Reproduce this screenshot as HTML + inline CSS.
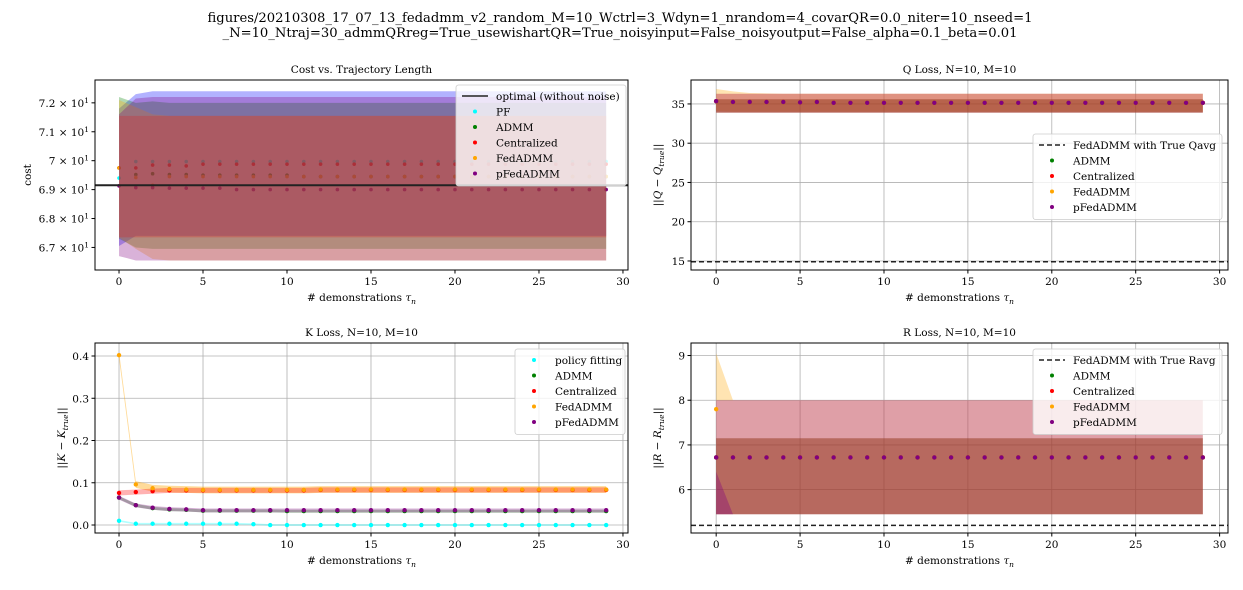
<!DOCTYPE html>
<html><head><meta charset="utf-8">
<style>
html,body{margin:0;padding:0;background:#fff;}
svg{display:block;font-family:"DejaVu Serif","Liberation Serif",serif;}
</style></head>
<body>
<svg id="fig" width="1243" height="590" viewBox="0 0 1243 590" xmlns="http://www.w3.org/2000/svg">
<rect width="1243" height="590" fill="#fff"/>
<text x="620" y="22" font-size="13" text-anchor="middle" textLength="825" lengthAdjust="spacingAndGlyphs">figures/20210308_17_07_13_fedadmm_v2_random_M=10_Wctrl=3_Wdyn=1_nrandom=4_covarQR=0.0_niter=10_nseed=1</text>
<text x="620" y="37" font-size="13" text-anchor="middle" textLength="795" lengthAdjust="spacingAndGlyphs">_N=10_Ntraj=30_admmQRreg=True_usewishartQR=True_noisyinput=False_noisyoutput=False_alpha=0.1_beta=0.01</text>
</svg>
<script>
// ---- Cost chart data ----
const costPF   = [69.40,69.97,69.97,69.97,69.97,69.97,69.97,69.97,69.97,69.97,69.97,69.97,69.97,69.97,69.97,69.97,69.97,69.97,69.97,69.97,69.97,69.97,69.97,69.97,69.97,69.97,69.97,69.97,69.97,69.97];
const costADMM = [69.75,69.52,69.55,69.52,69.52,69.50,69.50,69.50,69.50,69.50,69.50,69.45,69.45,69.45,69.45,69.45,69.45,69.45,69.45,69.45,69.45,69.45,69.45,69.45,69.45,69.45,69.45,69.45,69.45,69.45];
const costCent = [69.75,69.75,69.85,69.85,69.82,69.88,69.88,69.88,69.88,69.88,69.88,69.88,69.88,69.88,69.88,69.88,69.88,69.88,69.88,69.88,69.88,69.88,69.88,69.88,69.88,69.88,69.88,69.88,69.88,69.88];
const costFed  = [69.75,69.42,69.15,69.45,69.45,69.45,69.45,69.45,69.45,69.45,69.45,69.45,69.45,69.45,69.45,69.45,69.45,69.45,69.45,69.45,69.45,69.45,69.45,69.45,69.45,69.45,69.45,69.45,69.45,69.45];
const costPFed = [69.13,69.07,69.07,69.05,69.05,69.05,69.05,69.00,69.00,69.00,69.00,69.00,69.00,69.00,69.00,69.00,69.00,69.00,69.00,69.00,69.00,69.00,69.00,69.00,69.00,69.00,69.00,69.00,69.00,69.00];
const costPFLo = [67.05,67.40,67.40,67.40,67.40,67.40,67.40,67.40,67.40,67.40,67.40,67.40,67.40,67.40,67.40,67.40,67.40,67.40,67.40,67.40,67.40,67.40,67.40,67.40,67.40,67.40,67.40,67.40,67.40,67.40];
const costPFHi = [71.80,72.30,72.40,72.40,72.40,72.40,72.40,72.40,72.40,72.40,72.40,72.40,72.40,72.40,72.40,72.40,72.40,72.40,72.40,72.40,72.40,72.40,72.40,72.40,72.40,72.40,72.40,72.40,72.40,72.40];
const costADMMLo = [67.30,67.00,66.95,66.95,66.95,66.95,66.95,66.95,66.95,66.95,66.95,66.95,66.95,66.95,66.95,66.95,66.95,66.95,66.95,66.95,66.95,66.95,66.95,66.95,66.95,66.95,66.95,66.95,66.95,66.95];
const costADMMHi = [72.20,72.00,72.05,72.00,72.00,72.00,72.00,72.00,72.00,72.00,72.00,72.00,72.00,72.00,72.00,72.00,72.00,72.00,72.00,72.00,72.00,72.00,72.00,72.00,72.00,72.00,72.00,72.00,72.00,72.00];
const costCentLo = [67.35,67.35,67.35,67.35,67.35,67.35,67.35,67.35,67.35,67.35,67.35,67.35,67.35,67.35,67.35,67.35,67.35,67.35,67.35,67.35,67.35,67.35,67.35,67.35,67.35,67.35,67.35,67.35,67.35,67.35];
const costCentHi = [71.55,71.55,71.55,71.55,71.55,71.55,71.55,71.55,71.55,71.55,71.55,71.55,71.55,71.55,71.55,71.55,71.55,71.55,71.55,71.55,71.55,71.55,71.55,71.55,71.55,71.55,71.55,71.55,71.55,71.55];
const costFedLo = [67.35,66.95,66.60,66.55,66.55,66.55,66.55,66.55,66.55,66.55,66.55,66.55,66.55,66.55,66.55,66.55,66.55,66.55,66.55,66.55,66.55,66.55,66.55,66.55,66.55,66.55,66.55,66.55,66.55,66.55];
const costFedHi = [72.10,71.85,71.60,71.55,71.55,71.55,71.55,71.55,71.55,71.55,71.55,71.55,71.55,71.55,71.55,71.55,71.55,71.55,71.55,71.55,71.55,71.55,71.55,71.55,71.55,71.55,71.55,71.55,71.55,71.55];
const costPFedLo = [66.70,66.55,66.55,66.55,66.55,66.55,66.55,66.55,66.55,66.55,66.55,66.55,66.55,66.55,66.55,66.55,66.55,66.55,66.55,66.55,66.55,66.55,66.55,66.55,66.55,66.55,66.55,66.55,66.55,66.55];
const costPFedHi = [71.60,72.15,72.20,72.20,72.20,72.20,72.20,72.20,72.20,72.20,72.20,72.20,72.20,72.20,72.20,72.20,72.20,72.20,72.20,72.20,72.20,72.20,72.20,72.20,72.20,72.20,72.20,72.20,72.20,72.20];
const costOptimal = 69.15;
const costTicks = [67,68,69,70,71,72];
const costTickLabels = ["6.7","6.8","6.9","7","7.1","7.2"];

// ---- Q loss data ----
const qVal  = [35.35,35.25,35.25,35.25,35.25,35.2,35.25,35.15,35.15,35.15,35.15,35.15,35.15,35.15,35.15,35.15,35.15,35.15,35.15,35.15,35.15,35.15,35.15,35.15,35.15,35.15,35.15,35.15,35.15,35.15];
const qFedLo = [34.1,34.0,34.0,34.0,34.0,34.0,34.0,34.0,34.0,34.0,34.0,34.0,34.0,34.0,34.0,34.0,34.0,34.0,34.0,34.0,34.0,34.0,34.0,34.0,34.0,34.0,34.0,34.0,34.0,34.0];
const qFedHi = [36.9,36.6,36.4,36.35,36.3,36.3,36.3,36.3,36.3,36.3,36.3,36.3,36.3,36.3,36.3,36.3,36.3,36.3,36.3,36.3,36.3,36.3,36.3,36.3,36.3,36.3,36.3,36.3,36.3,36.3];
const qCentLo = [33.9,33.9,33.9,33.9,33.9,33.9,33.9,33.9,33.9,33.9,33.9,33.9,33.9,33.9,33.9,33.9,33.9,33.9,33.9,33.9,33.9,33.9,33.9,33.9,33.9,33.9,33.9,33.9,33.9,33.9];
const qCentHi = [36.3,36.3,36.3,36.3,36.3,36.3,36.3,36.3,36.3,36.3,36.3,36.3,36.3,36.3,36.3,36.3,36.3,36.3,36.3,36.3,36.3,36.3,36.3,36.3,36.3,36.3,36.3,36.3,36.3,36.3];
const qAdmmLo = [33.9,33.9,33.9,33.9,33.9,33.9,33.9,33.9,33.9,33.9,33.9,33.9,33.9,33.9,33.9,33.9,33.9,33.9,33.9,33.9,33.9,33.9,33.9,33.9,33.9,33.9,33.9,33.9,33.9,33.9];
const qAdmmHi = [35.6,35.6,35.6,35.6,35.6,35.6,35.6,35.6,35.6,35.6,35.6,35.6,35.6,35.6,35.6,35.6,35.6,35.6,35.6,35.6,35.6,35.6,35.6,35.6,35.6,35.6,35.6,35.6,35.6,35.6];
const qTrue = 14.9;
const qTicks = [15,20,25,30,35];

// ---- K loss data ----
const kPF   = [0.010,0.003,0.003,0.003,0.003,0.003,0.003,0.003,0.002,0,0,0,0,0,0,0,0,0,0,0,0,0,0,0,0,0,0,0,0,0];
const kADMM = [0.065,0.047,0.040,0.037,0.036,0.034,0.034,0.034,0.034,0.034,0.033,0.033,0.033,0.033,0.033,0.033,0.033,0.033,0.033,0.033,0.033,0.033,0.033,0.033,0.033,0.033,0.033,0.033,0.033,0.033];
const kCent = [0.076,0.078,0.080,0.082,0.082,0.082,0.082,0.082,0.082,0.082,0.082,0.082,0.083,0.083,0.083,0.083,0.083,0.083,0.083,0.083,0.083,0.083,0.083,0.083,0.083,0.083,0.083,0.083,0.083,0.083];
const kFed  = [0.402,0.096,0.087,0.085,0.084,0.083,0.083,0.083,0.083,0.083,0.083,0.083,0.084,0.084,0.084,0.084,0.084,0.084,0.084,0.084,0.084,0.084,0.084,0.084,0.084,0.084,0.084,0.084,0.084,0.084];
const kPFed = [0.065,0.047,0.041,0.038,0.037,0.035,0.035,0.035,0.035,0.035,0.035,0.035,0.035,0.035,0.035,0.035,0.035,0.035,0.035,0.035,0.035,0.035,0.035,0.035,0.035,0.035,0.035,0.035,0.035,0.035];
const kTicks = [0,0.1,0.2,0.3,0.4];
const kTickLabels = ["0.0","0.1","0.2","0.3","0.4"];

// ---- R loss data ----
const rPFed = [6.72,6.72,6.72,6.72,6.72,6.72,6.72,6.72,6.72,6.72,6.72,6.72,6.72,6.72,6.72,6.72,6.72,6.72,6.72,6.72,6.72,6.72,6.72,6.72,6.72,6.72,6.72,6.72,6.72,6.72];
const rFed = [7.80,6.72,6.72,6.72,6.72,6.72,6.72,6.72,6.72,6.72,6.72,6.72,6.72,6.72,6.72,6.72,6.72,6.72,6.72,6.72,6.72,6.72,6.72,6.72,6.72,6.72,6.72,6.72,6.72,6.72];
const rFedLo = [8.0,8.0,8.0,8.0,8.0,8.0,8.0,8.0,8.0,8.0,8.0,8.0,8.0,8.0,8.0,8.0,8.0,8.0,8.0,8.0,8.0,8.0,8.0,8.0,8.0,8.0,8.0,8.0,8.0,8.0];
const rFedHi = [9.05,8.0,8.0,8.0,8.0,8.0,8.0,8.0,8.0,8.0,8.0,8.0,8.0,8.0,8.0,8.0,8.0,8.0,8.0,8.0,8.0,8.0,8.0,8.0,8.0,8.0,8.0,8.0,8.0,8.0];
const rCentLo = [5.45,5.45,5.45,5.45,5.45,5.45,5.45,5.45,5.45,5.45,5.45,5.45,5.45,5.45,5.45,5.45,5.45,5.45,5.45,5.45,5.45,5.45,5.45,5.45,5.45,5.45,5.45,5.45,5.45,5.45];
const rCentHi = [8.0,8.0,8.0,8.0,8.0,8.0,8.0,8.0,8.0,8.0,8.0,8.0,8.0,8.0,8.0,8.0,8.0,8.0,8.0,8.0,8.0,8.0,8.0,8.0,8.0,8.0,8.0,8.0,8.0,8.0];
const rAdmmHi = [7.15,7.15,7.15,7.15,7.15,7.15,7.15,7.15,7.15,7.15,7.15,7.15,7.15,7.15,7.15,7.15,7.15,7.15,7.15,7.15,7.15,7.15,7.15,7.15,7.15,7.15,7.15,7.15,7.15,7.15];
const rPFedLo = [5.45,5.45,5.45,5.45,5.45,5.45,5.45,5.45,5.45,5.45,5.45,5.45,5.45,5.45,5.45,5.45,5.45,5.45,5.45,5.45,5.45,5.45,5.45,5.45,5.45,5.45,5.45,5.45,5.45,5.45];
const rPFedHi0 = [6.4,5.45,5.45,5.45,5.45,5.45,5.45,5.45,5.45,5.45,5.45,5.45,5.45,5.45,5.45,5.45,5.45,5.45,5.45,5.45,5.45,5.45,5.45,5.45,5.45,5.45,5.45,5.45,5.45,5.45];
const rTrue = 5.2;
const rTicks = [6,7,8,9];

const xTicks = [0,5,10,15,20,25,30];

const NS = "http://www.w3.org/2000/svg";
const fig = document.getElementById('fig');
function mk(tag, attrs, parent){ const e=document.createElementNS(NS,tag); for(const k in attrs) e.setAttribute(k,attrs[k]); (parent||fig).appendChild(e); return e; }

function makeAxes(name, box, xd, yd){
  const g = mk('g',{});
  
  
  const sx = v => box.x0 + (v - xd[0])/(xd[1]-xd[0])*(box.x1-box.x0);
  const sy = v => box.y1 - (v - yd[0])/(yd[1]-yd[0])*(box.y1-box.y0);
  return {g, sx, sy, box};
}
function grid(ax, yt){
  const {g,sx,sy,box}=ax;
  xTicks.forEach(t=>{ const l=mk('line',{x1:sx(t),x2:sx(t),y1:box.y0,y2:box.y1,stroke:'#b0b0b0','stroke-width':0.8},g);   });
  yt.forEach(t=>{ const l=mk('line',{x1:box.x0,x2:box.x1,y1:sy(t),y2:sy(t),stroke:'#b0b0b0','stroke-width':0.8},g);   });
}
function band(ax, lo, hi, color, op, name){
  const pts=[]; lo.forEach((v,i)=>pts.push(ax.sx(i)+','+ax.sy(hi[i])));
  for(let i=lo.length-1;i>=0;i--) pts.push(ax.sx(i)+','+ax.sy(lo[i]));
  const p=mk('polygon',{points:pts.join(' '),fill:color,'fill-opacity':op},ax.g);
  
  
}
function dots(ax, vals, color, name, r){
  vals.forEach((v,i)=>{ const c=mk('circle',{cx:ax.sx(i),cy:ax.sy(v),r:r||2.2,fill:color},ax.g);
    
     });
}
function hline(ax, v, color, dash, w, name){
  const l=mk('line',{x1:ax.box.x0,x2:ax.box.x1,y1:ax.sy(v),y2:ax.sy(v),stroke:color,'stroke-width':w,'stroke-dasharray':dash||'none'},ax.g);
  
  
}
function frame(ax, title, ylabel, yt, ylabs, sup){
  const {g,sx,sy,box}=ax;
  const r=mk('rect',{x:box.x0,y:box.y0,width:box.x1-box.x0,height:box.y1-box.y0,fill:'none',stroke:'#000','stroke-width':1},g);
   
  xTicks.forEach(t=>{ mk('line',{x1:sx(t),x2:sx(t),y1:box.y1,y2:box.y1+3.5,stroke:'#000'},g);
    const tx=mk('text',{x:sx(t),y:box.y1+15,'font-size':10.5,'text-anchor':'middle'},g); tx.textContent=t;
      });
  yt.forEach((t,i)=>{ mk('line',{x1:box.x0-3.5,x2:box.x0,y1:sy(t),y2:sy(t),stroke:'#000'},g);
    const tx=mk('text',{x:box.x0-6,y:sy(t)+4,'font-size':10.5,'text-anchor':'end'},g);
    if(sup){ tx.textContent=ylabs[i]+' \u00d7 10'; const s=mk('tspan',{dy:-4,'font-size':7.5},tx); s.textContent='1'; }
    else tx.textContent = ylabs ? ylabs[i] : t;
      });
  const tt=mk('text',{x:(box.x0+box.x1)/2,y:box.y0-7,'font-size':10.5,'text-anchor':'middle'},g); tt.textContent=title;
   
  const xl=mk('text',{x:(box.x0+box.x1)/2,y:box.y1+31,'font-size':10.5,'text-anchor':'middle'},g);
  xl.innerHTML='# demonstrations <tspan font-style="italic">\u03c4</tspan><tspan font-size="7.5" dy="3" font-style="italic">n</tspan>';
   
  const cy=(box.y0+box.y1)/2, cx=box.x0-(sup?64:30);
  const yl=mk('text',{x:cx,y:cy,'font-size':10.5,'text-anchor':'middle',transform:'rotate(-90 '+cx+' '+cy+')'},g);
  yl.innerHTML=ylabel;
   
}
function legend(ax, x, y, w, entries){
  const g=mk('g',{},ax.g);
   
  const h=entries.length*15.5+8;
  mk('rect',{x:x,y:y,width:w,height:h,rx:2.5,fill:'#fff','fill-opacity':0.8,stroke:'#ccc','stroke-width':0.8},g);
  entries.forEach((e,i)=>{
    const ey=y+11+i*15.5;
    const eg=mk('g',{},g);
     
    if(e.type==='line') mk('line',{x1:x+6,x2:x+32,y1:ey,y2:ey,stroke:e.color,'stroke-width':1.6,'stroke-dasharray':e.dash||'none'},eg);
    else mk('circle',{cx:x+19,cy:ey,r:2,fill:e.color},eg);
    const t=mk('text',{x:x+40,y:ey+4,'font-size':10.5},eg); t.textContent=e.label;
  });
}

// ---- Cost chart ----
(function(){
  const ax=makeAxes('cost-chart',{x0:95,x1:628,y0:80,y1:270},[-1.43,30.3],[66.22,72.79]);
  dots(ax,costPF,'#00ffff','pf-point',1.8);
  dots(ax,costADMM,'#008000','admm-point',1.8);
  dots(ax,costCent,'#ff0000','centralized-point',1.8);
  dots(ax,costFed,'#ffa500','fedadmm-point',1.8);
  dots(ax,costPFed,'#800080','pfedadmm-point',1.8);
  band(ax,costPFLo,costPFHi,'#0000ff',0.3,'pf-band');
  band(ax,costADMMLo,costADMMHi,'#008000',0.3,'admm-band');
  band(ax,costCentLo,costCentHi,'#ff0000',0.3,'centralized-band');
  band(ax,costFedLo,costFedHi,'#ffa500',0.3,'fedadmm-band');
  band(ax,costPFedLo,costPFedHi,'#800080',0.3,'pfedadmm-band');
  hline(ax,costOptimal,'#222','',2,'optimal-line');
  frame(ax,'Cost vs. Trajectory Length','cost',costTicks,costTickLabels,true);
  legend(ax,456,85,170,[{type:'line',color:'#222',label:'optimal (without noise)'},{color:'#00ffff',label:'PF'},{color:'#008000',label:'ADMM'},{color:'#ff0000',label:'Centralized'},{color:'#ffa500',label:'FedADMM'},{color:'#800080',label:'pFedADMM'}]);
})();

// ---- Q loss ----
(function(){
  const ax=makeAxes('q-loss-chart',{x0:691,x1:1228,y0:80,y1:270},[-1.5,30.5],[13.85,38.05]);
  grid(ax,qTicks);
  band(ax,qFedLo,qFedHi,'#ffa500',0.3,'fedadmm-band');
  band(ax,qCentLo,qCentHi,'#c04050',0.5,'centralized-band');
  band(ax,qAdmmLo,qAdmmHi,'#903418',0.5,'admm-band');
  hline(ax,qTrue,'#222','5,3',1.5,'fedadmm-true-qavg-line');
  dots(ax,qVal,'#008000','admm-point');
  dots(ax,qVal,'#ff0000','centralized-point');
  dots(ax,qVal,'#ffa500','fedadmm-point');
  dots(ax,qVal,'#800080','pfedadmm-point');
  frame(ax,'Q Loss, N=10, M=10','||<tspan font-style="italic">Q</tspan> \u2212 <tspan font-style="italic">Q</tspan><tspan font-size="7.5" dy="3" font-style="italic">true</tspan><tspan dy="-3">||</tspan>',qTicks,null,false);
  legend(ax,1033,134,189,[{type:'line',color:'#222',dash:'5,3',label:'FedADMM with True Qavg'},{color:'#008000',label:'ADMM'},{color:'#ff0000',label:'Centralized'},{color:'#ffa500',label:'FedADMM'},{color:'#800080',label:'pFedADMM'}]);
})();

// ---- K loss ----
(function(){
  const ax=makeAxes('k-loss-chart',{x0:95,x1:628,y0:343,y1:533},[-1.43,30.3],[-0.0189,0.4308]);
  grid(ax,kTicks);
  band(ax,kPF.map(v=>v-0.002),kPF.map(v=>v+0.002),'#00ffff',0.3,'pf-band');
  band(ax,kFed.map(v=>v-0.008),kFed.map(v=>v+0.008),'#ffa500',0.4,'fedadmm-band');
  band(ax,kCent.map(v=>v-0.006),kCent.map(v=>v+0.006),'#ff0000',0.3,'centralized-band');
  band(ax,kADMM.map(v=>v-0.004),kADMM.map(v=>v+0.003),'#008000',0.3,'admm-band');
  band(ax,kPFed.map(v=>v-0.005),kPFed.map(v=>v+0.004),'#800080',0.3,'pfedadmm-band');
  dots(ax,kPF,'#00ffff','policy-fitting-point');
  dots(ax,kADMM,'#008000','admm-point');
  dots(ax,kCent,'#ff0000','centralized-point');
  dots(ax,kFed,'#ffa500','fedadmm-point');
  dots(ax,kPFed,'#800080','pfedadmm-point');
  frame(ax,'K Loss, N=10, M=10','||<tspan font-style="italic">K</tspan> \u2212 <tspan font-style="italic">K</tspan><tspan font-size="7.5" dy="3" font-style="italic">true</tspan><tspan dy="-3">||</tspan>',kTicks,kTickLabels,false);
  legend(ax,515,349,110,[{color:'#00ffff',label:'policy fitting'},{color:'#008000',label:'ADMM'},{color:'#ff0000',label:'Centralized'},{color:'#ffa500',label:'FedADMM'},{color:'#800080',label:'pFedADMM'}]);
})();

// ---- R loss ----
(function(){
  const ax=makeAxes('r-loss-chart',{x0:691,x1:1228,y0:343,y1:533},[-1.5,30.5],[5.03,9.28]);
  grid(ax,rTicks);
  band(ax,rFedLo,rFedHi,'#ffa500',0.3,'fedadmm-band');
  band(ax,rCentLo,rCentHi,'#c04050',0.5,'centralized-band');
  band(ax,rCentLo,rAdmmHi,'#903418',0.5,'admm-band');
  band(ax,rPFedLo,rPFedHi0,'#800080',0.35,'pfedadmm-band');
  hline(ax,rTrue,'#222','5,3',1.5,'fedadmm-true-ravg-line');
  dots(ax,rPFed,'#008000','admm-point');
  dots(ax,rPFed,'#ff0000','centralized-point');
  dots(ax,rFed,'#ffa500','fedadmm-point');
  dots(ax,rPFed,'#800080','pfedadmm-point');
  frame(ax,'R Loss, N=10, M=10','||<tspan font-style="italic">R</tspan> \u2212 <tspan font-style="italic">R</tspan><tspan font-size="7.5" dy="3" font-style="italic">true</tspan><tspan dy="-3">||</tspan>',rTicks,null,false);
  legend(ax,1033,349,189,[{type:'line',color:'#222',dash:'5,3',label:'FedADMM with True Ravg'},{color:'#008000',label:'ADMM'},{color:'#ff0000',label:'Centralized'},{color:'#ffa500',label:'FedADMM'},{color:'#800080',label:'pFedADMM'}]);
})();
</script>
</body></html>
